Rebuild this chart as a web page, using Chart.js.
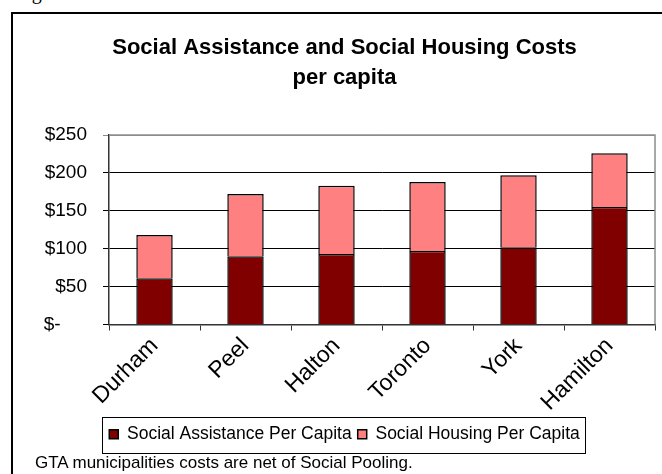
<!DOCTYPE html>
<html>
<head>
<meta charset="utf-8">
<script src="https://cdn.jsdelivr.net/npm/chart.js@4"></script>
<style>
  body { margin: 0; background: #fff; overflow: hidden; }
  #wrap { position: relative; width: 662px; height: 474px; overflow: hidden; }
  #frame { position: absolute; left: 11px; top: 12px; width: 700px; height: 500px;
           border-left: 2px solid #000; border-top: 2px solid #000; }
  #fig { position: absolute; left: 15px; top: -19px; font: 20px 'Liberation Serif', serif; }
  #note { position: absolute; left: 35px; top: 453px; font: 17px 'Liberation Sans', Arial, sans-serif; }
  canvas { position: absolute; left: 0; top: 0; }
</style>
</head>
<body>
<div id="wrap">
  <div id="fig">Figure</div>
  <div id="frame"></div>
  <canvas id="costChart" width="690" height="474"></canvas>
  <div id="note">GTA municipalities costs are net of Social Pooling.</div>
</div>
<script>
const municipalities = ['Durham', 'Peel', 'Halton', 'Toronto', 'York', 'Hamilton'];
const assistancePerCapita = [61, 90, 93, 97, 102, 155];
const housingPerCapita = [57, 82, 90, 91, 95, 71];
const yTicks = [0, 50, 100, 150, 200, 250];

const FONT = "'Liberation Sans', Arial, sans-serif";

// gray frame on the top and right of the plot area, box around the legend
const framePlugin = {
    id: 'frames',
    afterDraw(chart) {
        const ctx = chart.ctx;
        const a = chart.chartArea;
        ctx.save();
        ctx.strokeStyle = '#8c8c8c';
        ctx.lineWidth = 1.5;
        ctx.beginPath();
        ctx.moveTo(a.left, a.top);
        ctx.lineTo(a.right, a.top);
        ctx.lineTo(a.right, a.bottom);
        ctx.stroke();

        const boxes = chart.legend.legendHitBoxes;
        if (boxes && boxes.length) {
            const x0 = Math.min(...boxes.map(b => b.left)) - 7;
            const x1 = Math.max(...boxes.map(b => b.left + b.width)) + 6;
            const y0 = Math.min(...boxes.map(b => b.top)) - 9;
            const y1 = Math.max(...boxes.map(b => b.top + b.height)) + 9;
            ctx.strokeStyle = '#000';
            ctx.lineWidth = 1;
            ctx.strokeRect(Math.round(x0) + 0.5, Math.round(y0) + 0.5, Math.round(x1 - x0), Math.round(y1 - y0));
        }
        ctx.restore();
    }
};

new Chart(document.getElementById('costChart'), {
    type: 'bar',
    data: {
        labels: municipalities,
        datasets: [{
            label: 'Social Assistance Per Capita',
            data: assistancePerCapita,
            backgroundColor: '#800000',
            borderColor: '#000',
            borderWidth: 1.5
        }, {
            label: 'Social Housing Per Capita',
            data: housingPerCapita,
            backgroundColor: '#ff8080',
            borderColor: '#000',
            borderWidth: 1.5
        }]
    },
    options: {
        responsive: false,
        animation: false,
        categoryPercentage: 1,
        barPercentage: 0.4,
        layout: { padding: { left: 34, right: 35, bottom: 21 } },
        plugins: {
            title: {
                display: true,
                text: ['Social Assistance and Social Housing Costs', 'per capita'],
                color: '#000',
                font: { family: FONT, size: 22, weight: 'bold', lineHeight: 30 / 22 },
                padding: { top: 33, bottom: 42 }
            },
            legend: {
                position: 'bottom',
                labels: {
                    color: '#000',
                    font: { family: FONT, size: 17.5 },
                    boxWidth: 9,
                    boxHeight: 9,
                    padding: 6
                }
            },
            tooltip: { enabled: false }
        },
        scales: {
            x: {
                stacked: true,
                grid: { offset: true, drawOnChartArea: false, tickLength: 6, color: '#333' },
                border: { color: '#333', width: 1.5 },
                ticks: { color: '#000', font: { family: FONT, size: 23 }, minRotation: 45, maxRotation: 45, padding: 2 },
                afterFit(scale) { scale.height = 95; }
            },
            y: {
                stacked: true,
                min: 0,
                max: 250,
                afterBuildTicks(scale) { scale.ticks = yTicks.map(v => ({ value: v })); },
                grid: {
                    tickLength: 6,
                    color: ctx => ctx.tick && ctx.tick.value === 250 ? '#8c8c8c' : '#000'
                },
                border: { color: '#333', width: 1.5 },
                ticks: {
                    color: '#000',
                    font: { family: FONT, size: 19 },
                    padding: 16,
                    callback: v => v === 0 ? '$-     ' : '$' + v
                },
                afterFit(scale) { scale.width = 75; }
            }
        }
    },
    plugins: [framePlugin]
});
</script>
</body>
</html>
